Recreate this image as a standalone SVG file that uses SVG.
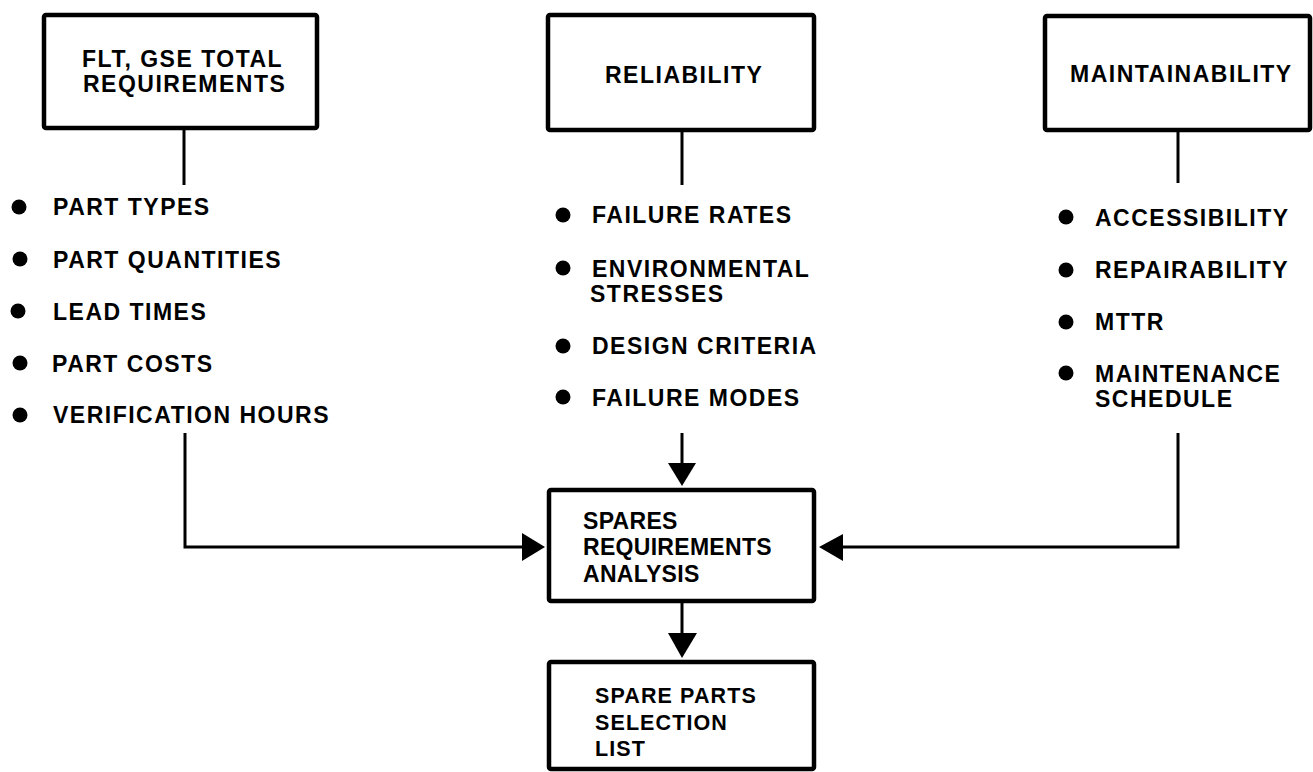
<svg xmlns="http://www.w3.org/2000/svg" width="1313" height="772" viewBox="0 0 1313 772">
<style>
.box{fill:#fff;stroke:#000;stroke-width:4.5}
.t{font-family:"Liberation Sans",Arial,sans-serif;font-weight:bold;font-size:23px;letter-spacing:1.5px;fill:#000}
.tc{font-family:"Liberation Sans",Arial,sans-serif;font-weight:bold;font-size:23px;letter-spacing:0.3px;fill:#000}
.ts{font-family:"Liberation Sans",Arial,sans-serif;font-weight:bold;font-size:21.5px;letter-spacing:1.1px;fill:#000}
.c{fill:none;stroke:#000;stroke-width:3}
.b{fill:#000}
</style>
<rect width="1313" height="772" fill="#fff"/>
<g id="connectors">
<path class="c" d="M184 130 V185"/>
<path class="c" d="M682 132 V185"/>
<path class="c" d="M1178 132 V183"/>
<path class="c" d="M185 433 V547 H524"/>
<path class="c" d="M682 433 V465"/>
<path class="c" d="M1178 433 V547 H841"/>
<path class="c" d="M682 603 V635"/>
<polygon class="b" points="522,533 545,547 522,561"/>
<polygon class="b" points="843,534 819,547 843,561"/>
<polygon class="b" points="668,463 696,463 682,486"/>
<polygon class="b" points="668,633 697,633 682,658"/>
</g>
<g id="node-flt">
<rect class="box" x="44" y="15" width="273" height="113" rx="2"/>
<text class="t" x="82" y="67">FLT, GSE TOTAL</text>
<text class="t" x="83" y="92">REQUIREMENTS</text>
</g>
<g id="list-flt">
<circle class="b" cx="19" cy="207" r="7.5"/><text class="t" x="53" y="215">PART TYPES</text>
<circle class="b" cx="20" cy="259" r="7.5"/><text class="t" x="53" y="268">PART QUANTITIES</text>
<circle class="b" cx="18" cy="311" r="7.5"/><text class="t" x="53" y="320">LEAD TIMES</text>
<circle class="b" cx="20" cy="363" r="7.5"/><text class="t" x="52" y="372">PART COSTS</text>
<circle class="b" cx="20" cy="415" r="7.5"/><text class="t" x="53" y="423">VERIFICATION HOURS</text>
</g>
<g id="node-reliability">
<rect class="box" x="548" y="15" width="266" height="115" rx="2"/>
<text class="t" x="605" y="83">RELIABILITY</text>
</g>
<g id="list-reliability">
<circle class="b" cx="563" cy="215" r="7.5"/><text class="t" x="592" y="223">FAILURE RATES</text>
<circle class="b" cx="563" cy="268" r="7.5"/><text class="t" x="592" y="277">ENVIRONMENTAL</text>
<text class="t" x="590" y="302">STRESSES</text>
<circle class="b" cx="563" cy="346" r="7.5"/><text class="t" x="592" y="354">DESIGN CRITERIA</text>
<circle class="b" cx="563" cy="397" r="7.5"/><text class="t" x="592" y="406">FAILURE MODES</text>
</g>
<g id="node-maintainability">
<rect class="box" x="1045" y="16" width="265" height="114" rx="2"/>
<text class="t" x="1070" y="82">MAINTAINABILITY</text>
</g>
<g id="list-maintainability">
<circle class="b" cx="1066" cy="217" r="7.5"/><text class="t" x="1095" y="226">ACCESSIBILITY</text>
<circle class="b" cx="1066" cy="270" r="7.5"/><text class="t" x="1095" y="278">REPAIRABILITY</text>
<circle class="b" cx="1066" cy="322" r="7.5"/><text class="t" x="1095" y="330">MTTR</text>
<circle class="b" cx="1066" cy="373" r="7.5"/><text class="t" x="1095" y="382">MAINTENANCE</text>
<text class="t" x="1095" y="407">SCHEDULE</text>
</g>
<g id="node-spares-analysis">
<rect class="box" x="549" y="490" width="265" height="111" rx="2"/>
<text class="tc" x="583" y="529">SPARES</text>
<text class="tc" x="583" y="555">REQUIREMENTS</text>
<text class="tc" x="583" y="582">ANALYSIS</text>
</g>
<g id="node-spare-parts">
<rect class="box" x="549" y="662" width="265" height="107" rx="2"/>
<text class="ts" x="595" y="703">SPARE PARTS</text>
<text class="ts" x="595" y="730">SELECTION</text>
<text class="ts" x="595" y="756">LIST</text>
</g>
</svg>
